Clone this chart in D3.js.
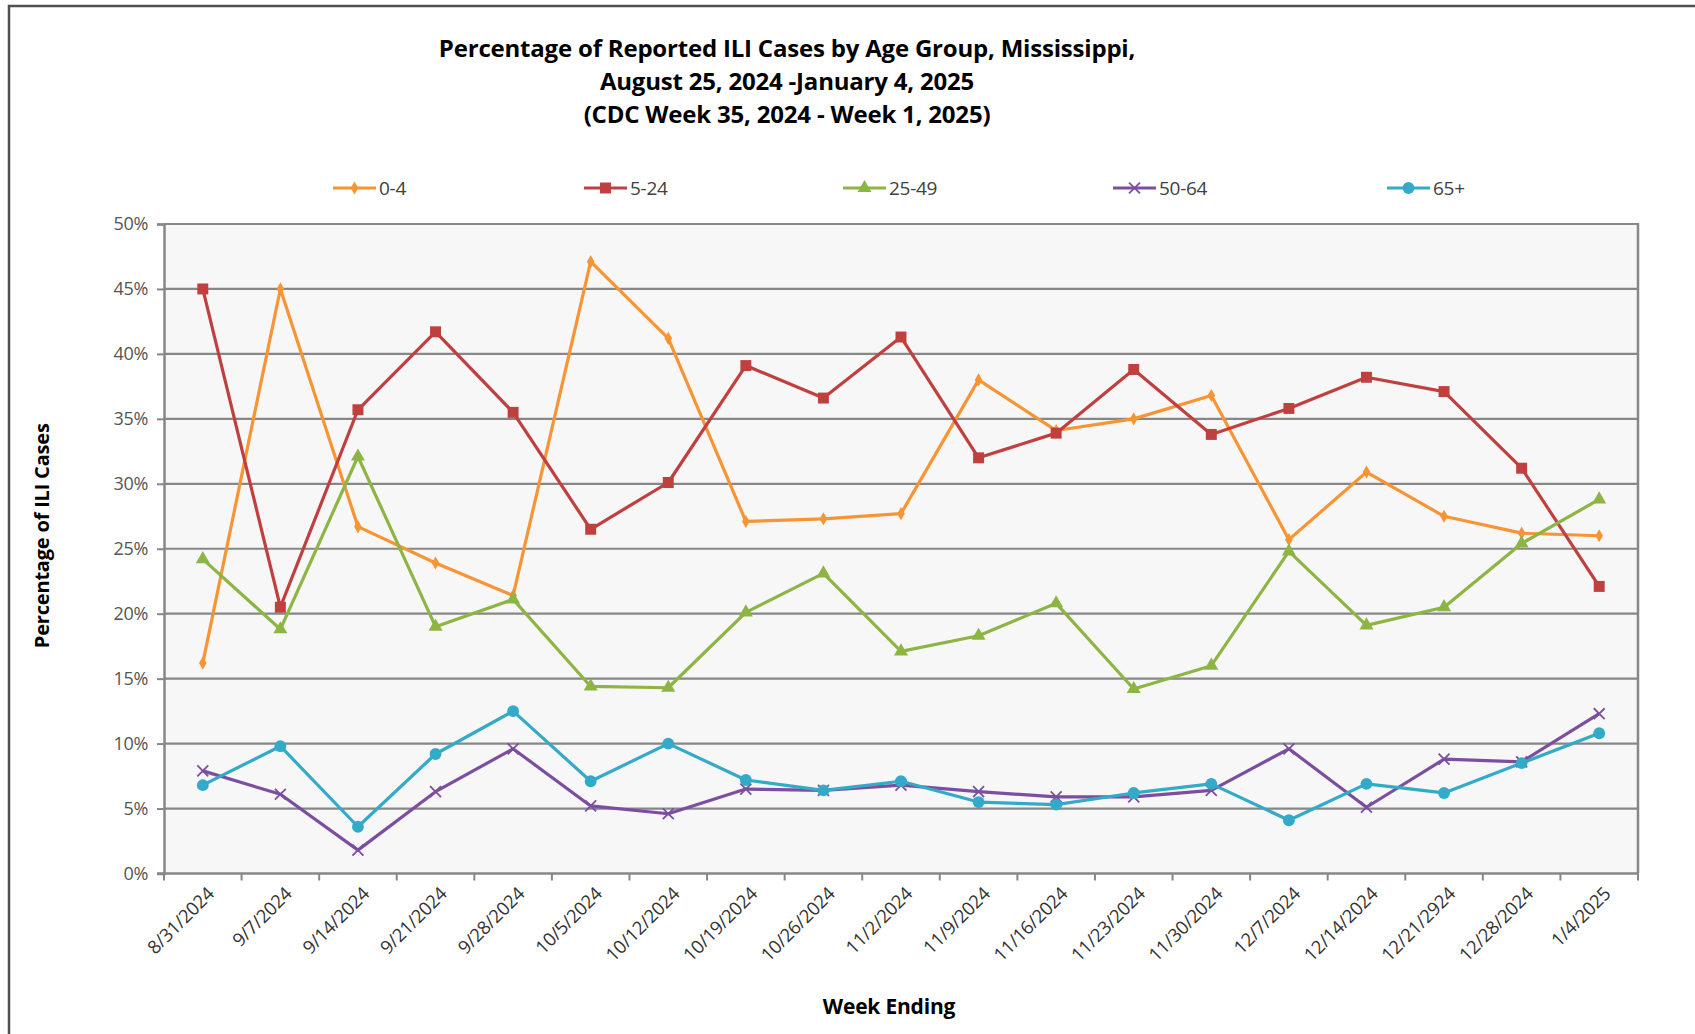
<!DOCTYPE html>
<html>
<head>
<meta charset="utf-8">
<script src="https://cdn.jsdelivr.net/npm/d3@7"></script>
<style>
  body { margin: 0; background: #fff; }
  svg { display: block; }
</style>
</head>
<body>
<script>
// week ending labels (typo kept as in the source chart)
var weeks = ['8/31/2024', '9/7/2024', '9/14/2024', '9/21/2024', '9/28/2024', '10/5/2024',
  '10/12/2024', '10/19/2024', '10/26/2024', '11/2/2024', '11/9/2024', '11/16/2024',
  '11/23/2024', '11/30/2024', '12/7/2024', '12/14/2024', '12/21/2924', '12/28/2024', '1/4/2025'];

var age0to4 = [16.2, 45.0, 26.7, 23.9, 21.4, 47.1, 41.2, 27.1, 27.3, 27.7, 38.0, 34.1, 35.0, 36.8, 25.7, 30.9, 27.5, 26.2, 26.0];
var age5to24 = [45.0, 20.5, 35.7, 41.7, 35.5, 26.5, 30.1, 39.1, 36.6, 41.3, 32.0, 33.9, 38.8, 33.8, 35.8, 38.2, 37.1, 31.2, 22.1];
var age25to49 = [24.2, 18.8, 32.1, 19.0, 21.1, 14.4, 14.3, 20.1, 23.1, 17.1, 18.3, 20.8, 14.2, 16.0, 24.8, 19.1, 20.5, 25.4, 28.8];
var age50to64 = [7.9, 6.1, 1.8, 6.3, 9.6, 5.2, 4.6, 6.5, 6.4, 6.8, 6.3, 5.9, 5.9, 6.4, 9.6, 5.1, 8.8, 8.6, 12.3];
var age65plus = [6.8, 9.8, 3.6, 9.2, 12.5, 7.1, 10.0, 7.2, 6.4, 7.1, 5.5, 5.3, 6.2, 6.9, 4.1, 6.9, 6.2, 8.5, 10.8];

var seriesNames = ['0-4', '5-24', '25-49', '50-64', '65+'];
var yTicks = [0, 5, 10, 15, 20, 25, 30, 35, 40, 45, 50];

var series = [
  { name: seriesNames[0], values: age0to4, color: '#f79433', shape: d3.symbolDiamond, size: 50 },
  { name: seriesNames[1], values: age5to24, color: '#c03f3f', shape: d3.symbolSquare, size: 120 },
  { name: seriesNames[2], values: age25to49, color: '#8db544', shape: d3.symbolTriangle, size: 85 },
  { name: seriesNames[3], values: age50to64, color: '#7b4ea0', shape: d3.symbolX, size: 80, stroke: true },
  { name: seriesNames[4], values: age65plus, color: '#32aac8', shape: d3.symbolCircle, size: 110 }
];

var W = 1695, H = 1034;
var plot = { left: 164, top: 224, right: 1638, bottom: 873.5 };
var font = '"Open Sans", "Noto Sans", sans-serif';

var svg = d3.select('body').append('svg')
  .attr('width', W)
  .attr('height', H);

// outer frame
svg.append('rect')
  .attr('x', 9).attr('y', 6)
  .attr('width', W).attr('height', H)
  .attr('fill', 'none')
  .attr('stroke', '#505050')
  .attr('stroke-width', 2.5);

var x = d3.scaleBand()
  .domain(weeks)
  .range([plot.left, plot.right])
  .padding(0);

var y = d3.scaleLinear()
  .domain([0, 50])
  .range([plot.bottom, plot.top]);

// plot area
svg.append('rect')
  .attr('x', plot.left).attr('y', plot.top)
  .attr('width', plot.right - plot.left)
  .attr('height', plot.bottom - plot.top)
  .attr('fill', '#f7f7f7');

// gridlines
svg.append('g')
  .selectAll('line')
  .data(yTicks.filter(function(t) { return t > 0; }))
  .enter().append('line')
  .attr('x1', plot.left).attr('x2', plot.right)
  .attr('y1', function(d) { return y(d); })
  .attr('y2', function(d) { return y(d); })
  .attr('stroke', '#878787')
  .attr('stroke-width', 2.2);

// right border
svg.append('line')
  .attr('x1', plot.right).attr('x2', plot.right)
  .attr('y1', plot.top - 1).attr('y2', plot.bottom)
  .attr('stroke', '#878787')
  .attr('stroke-width', 2.5);

// y axis
var yAxis = svg.append('g')
  .attr('transform', 'translate(' + plot.left + ',0)')
  .call(d3.axisLeft(y).tickValues(yTicks).tickSize(7).tickPadding(9)
    .tickFormat(function(d) { return d + '%'; }));
yAxis.select('.domain').attr('stroke', '#878787').attr('stroke-width', 2.5);
yAxis.selectAll('.tick line').attr('stroke', '#878787').attr('stroke-width', 2);
yAxis.selectAll('.tick text')
  .attr('fill', '#555')
  .style('font-family', font)
  .style('font-size', '18px')
  .style('letter-spacing', '-0.3px');

// x axis: ticks between categories
var xAxisG = svg.append('g');
xAxisG.append('line')
  .attr('x1', plot.left - 7).attr('x2', plot.right)
  .attr('y1', plot.bottom).attr('y2', plot.bottom)
  .attr('stroke', '#878787')
  .attr('stroke-width', 2.5);

var bounds = weeks.map(function(w) { return x(w); }).concat([plot.right]);
xAxisG.selectAll('line.tk')
  .data(bounds)
  .enter().append('line')
  .attr('class', 'tk')
  .attr('x1', function(d) { return d; })
  .attr('x2', function(d) { return d; })
  .attr('y1', plot.bottom)
  .attr('y2', plot.bottom + 7)
  .attr('stroke', '#878787')
  .attr('stroke-width', 2);

xAxisG.selectAll('text')
  .data(weeks)
  .enter().append('text')
  .attr('transform', function(d) {
    return 'translate(' + (x(d) + x.bandwidth() / 2 + 8) + ',' + (plot.bottom + 17) + ') rotate(-45)';
  })
  .attr('text-anchor', 'end')
  .attr('dy', '0.35em')
  .attr('fill', '#333')
  .style('font-family', font)
  .style('font-size', '18.5px')
  .style('letter-spacing', '-0.3px')
  .text(function(d) { return d; });

// lines and markers
var line = d3.line()
  .x(function(d, i) { return x(weeks[i]) + x.bandwidth() / 2; })
  .y(function(d) { return y(d); });

series.forEach(function(s) {
  var g = svg.append('g');
  g.append('path')
    .datum(s.values)
    .attr('d', line)
    .attr('fill', 'none')
    .attr('stroke', s.color)
    .attr('stroke-width', 3.2)
    .attr('stroke-linejoin', 'round');

  g.selectAll('path.mk')
    .data(s.values)
    .enter().append('path')
    .attr('class', 'mk')
    .attr('transform', function(d, i) {
      return 'translate(' + (x(weeks[i]) + x.bandwidth() / 2) + ',' + y(d) + ')';
    })
    .attr('d', d3.symbol().type(s.shape).size(s.size))
    .attr('fill', s.stroke ? 'none' : s.color)
    .attr('stroke', s.color)
    .attr('stroke-width', s.stroke ? 1.8 : 0);
});

// legend
var legendX = [333, 584, 843, 1113, 1387];
var legend = svg.append('g');
series.forEach(function(s, i) {
  var lg = legend.append('g')
    .attr('transform', 'translate(' + legendX[i] + ',188)');
  lg.append('line')
    .attr('x1', 0).attr('x2', 43)
    .attr('stroke', s.color)
    .attr('stroke-width', 3.2);
  lg.append('path')
    .attr('transform', 'translate(21.5,0)')
    .attr('d', d3.symbol().type(s.shape).size(s.size))
    .attr('fill', s.stroke ? 'none' : s.color)
    .attr('stroke', s.color)
    .attr('stroke-width', s.stroke ? 1.8 : 0);
  lg.append('text')
    .attr('x', 46)
    .attr('dy', '0.35em')
    .attr('fill', '#404040')
    .style('font-family', font)
    .style('font-size', '19px')
    .style('letter-spacing', '-0.3px')
    .text(s.name);
});

// title
var titleLines = ['Percentage of Reported ILI Cases by Age Group, Mississippi,',
  'August 25, 2024 -January 4, 2025',
  '(CDC Week 35, 2024 - Week 1, 2025)'];
svg.append('g')
  .selectAll('text')
  .data(titleLines)
  .enter().append('text')
  .attr('x', 787)
  .attr('y', function(d, i) { return 57 + i * 33; })
  .attr('text-anchor', 'middle')
  .attr('fill', '#000')
  .style('font-family', font)
  .style('font-weight', 'bold')
  .style('font-size', '24px')
  .style('letter-spacing', '-0.2px')
  .text(function(d) { return d; });

// axis titles
svg.append('text')
  .attr('transform', 'translate(49,' + ((plot.top + plot.bottom) / 2 - 13) + ') rotate(-90)')
  .attr('text-anchor', 'middle')
  .attr('fill', '#000')
  .style('font-family', font)
  .style('font-weight', 'bold')
  .style('font-size', '20px')
  .style('letter-spacing', '-0.2px')
  .text('Percentage of ILI Cases');

svg.append('text')
  .attr('x', 889)
  .attr('y', 1014)
  .attr('text-anchor', 'middle')
  .attr('fill', '#000')
  .style('font-family', font)
  .style('font-weight', 'bold')
  .style('font-size', '21px')
  .style('letter-spacing', '-0.2px')
  .text('Week Ending');
</script>
</body>
</html>
